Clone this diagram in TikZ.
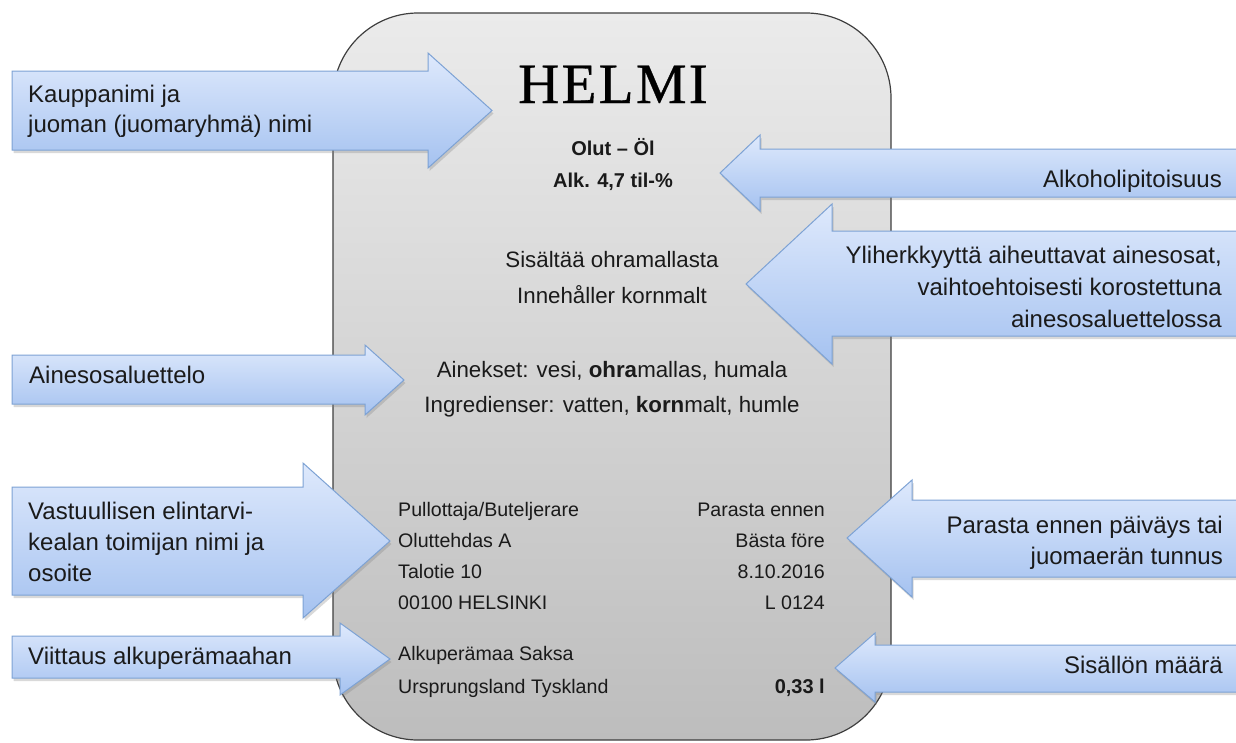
\documentclass[tikz,border=0pt]{standalone}
\usepackage{fontspec}
\setmainfont{Liberation Sans}
\newfontfamily\helmifont[LetterSpace=4,FakeBold=0.6]{Liberation Serif}
\usetikzlibrary{shadows}
\definecolor{arrtop}{HTML}{DEE9FC}
\definecolor{arrbot}{HTML}{A5C2F0}
\definecolor{arrline}{HTML}{7DA2D4}
\definecolor{lbltop}{HTML}{EBEBEB}
\definecolor{lblbot}{HTML}{BDBDBD}
\definecolor{lblline}{HTML}{3F3F3F}
\definecolor{txt}{HTML}{1A1A1A}
\tikzset{
  callout/.style={top color=arrtop, bottom color=arrbot, draw=arrline, line width=1pt, line join=miter,
    drop shadow={opacity=0.3, shadow xshift=1.5pt, shadow yshift=-3pt}},
  arrtxtL/.style={font=\fontsize{24}{28}\selectfont, text=txt, inner sep=0pt, anchor=base west},
  arrtxtR/.style={font=\fontsize{24}{28}\selectfont, text=txt, inner sep=0pt, anchor=base east},
  midtxt/.style={font=\fontsize{22.3}{26}\selectfont, text=txt, inner sep=0pt, anchor=base},
  boldtxt/.style={font=\fontsize{20}{24}\selectfont\bfseries, text=txt, inner sep=0pt, anchor=base},
  addrL/.style={font=\fontsize{19.6}{23}\selectfont, text=txt, inner sep=0pt, anchor=base west},
  addrR/.style={font=\fontsize{19.6}{23}\selectfont, text=txt, inner sep=0pt, anchor=base east},
}
% right-pointing callout: xl, body top, body bottom, head x, head top, head bottom, tip x, tip y
\newcommand{\RCall}[8]{\path[callout] (#1,-#2) -- (#4,-#2) -- (#4,-#5) -- (#7,-#8) -- (#4,-#6) -- (#4,-#3) -- (#1,-#3) -- cycle;}
% left-pointing callout: xr, body top, body bottom, head x, head top, head bottom, tip x, tip y
\newcommand{\LCall}[8]{\path[callout] (#1,-#2) -- (#4,-#2) -- (#4,-#5) -- (#7,-#8) -- (#4,-#6) -- (#4,-#3) -- (#1,-#3) -- cycle;}
\begin{document}
\begin{tikzpicture}[x=1pt,y=1pt]
\useasboundingbox (0,0) rectangle (1236,-742);
% label body
\node[name=label, draw=lblline, line width=1.2pt, rounded corners=85pt, top color=lbltop, bottom color=lblbot,
  minimum width=558pt, minimum height=727pt, inner sep=0pt] at (612,-376.5) {};
% label texts
\node[name=helmi, font=\helmifont\fontsize{57}{60}\selectfont, text=black, inner sep=0pt, anchor=base] at (613,-103) {HELMI};
\node[name=olut, boldtxt] at (613,-155) {Olut – Öl};
\node[name=alk, boldtxt] at (613,-187) {Alk. 4,7 til-\%};
\node[name=sis1, midtxt] at (612,-267) {Sisältää ohramallasta};
\node[name=sis2, midtxt] at (612,-303) {Innehåller kornmalt};
\node[name=ain1, midtxt] at (612,-377) {Ainekset: vesi, \textbf{ohra}mallas, humala};
\node[name=ain2, midtxt] at (612,-412) {Ingredienser: vatten, \textbf{korn}malt, humle};
\node[name=ad1, addrL] at (398,-516) {Pullottaja/Buteljerare};
\node[name=ad2, addrL] at (398,-547) {Oluttehdas A};
\node[name=ad3, addrL] at (398,-578) {Talotie 10};
\node[name=ad4, addrL] at (398,-609) {00100 HELSINKI};
\node[name=bb1, addrR] at (825,-516) {Parasta ennen};
\node[name=bb2, addrR] at (825,-547) {Bästa före};
\node[name=bb3, addrR] at (825,-578) {8.10.2016};
\node[name=bb4, addrR] at (825,-609) {L 0124};
\node[name=or1, addrL] at (398,-660) {Alkuperämaa Saksa};
\node[name=or2, addrL] at (398,-693) {Ursprungsland Tyskland};
\node[name=vol, boldtxt, anchor=base east] at (825,-693) {0,33 l};
% callouts
\RCall{12}{71}{150}{428}{53}{168}{492}{110.5}
\LCall{1245}{149}{197}{760}{135}{211}{720}{173}
\LCall{1245}{231}{336}{832}{204}{364}{746}{284}
\RCall{12}{355}{404}{365}{345}{415}{404}{380}
\RCall{12}{487}{595}{303}{463}{618}{390}{541}
\RCall{12}{636}{678}{340}{623}{695}{390}{659}
\LCall{1245}{500}{577}{912}{480}{597}{847}{538}
\LCall{1245}{645}{692}{875}{633}{702}{835}{668}
% callout texts
\node[name=t1a, arrtxtL] at (28,-102) {Kauppanimi ja};
\node[name=t1b, arrtxtL] at (28,-132) {juoman (juomaryhmä) nimi};
\node[name=t2, arrtxtR] at (1222,-187) {Alkoholipitoisuus};
\node[name=t3a, arrtxtR] at (1222,-263) {Yliherkkyyttä aiheuttavat ainesosat,};
\node[name=t3b, arrtxtR] at (1222,-295) {vaihtoehtoisesti korostettuna};
\node[name=t3c, arrtxtR] at (1222,-327) {ainesosaluettelossa};
\node[name=t4, arrtxtL] at (29,-383) {Ainesosaluettelo};
\node[name=t5a, arrtxtL] at (28,-519) {Vastuullisen elintarvi-};
\node[name=t5b, arrtxtL] at (28,-550) {kealan toimijan nimi ja};
\node[name=t5c, arrtxtL] at (28,-581) {osoite};
\node[name=t6, arrtxtL] at (28,-664) {Viittaus alkuperämaahan};
\node[name=t7a, arrtxtR] at (1223,-533) {Parasta ennen päiväys tai};
\node[name=t7b, arrtxtR] at (1223,-564) {juomaerän tunnus};
\node[name=t8, arrtxtR] at (1223,-673) {Sisällön määrä};
\end{tikzpicture}
\end{document}
